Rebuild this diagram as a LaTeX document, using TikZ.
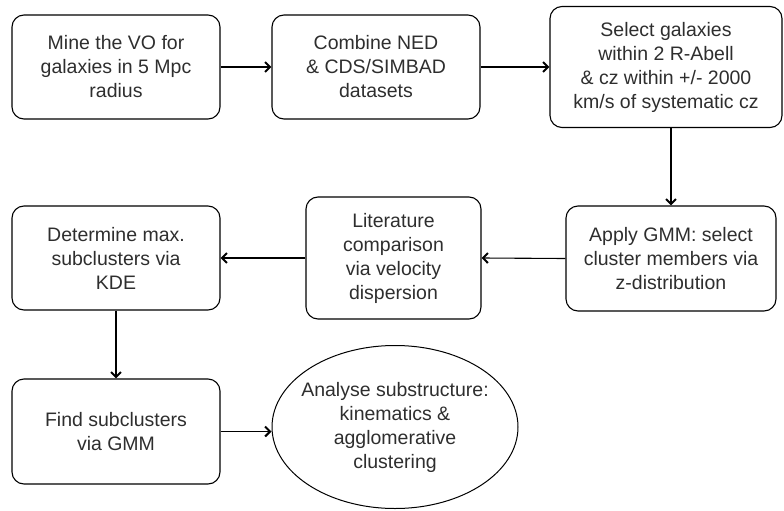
\documentclass[tikz,border=0pt]{standalone}
\usepackage{fontspec}
\setmainfont{Liberation Sans}
\usetikzlibrary{shapes.geometric,arrows.meta}
\begin{document}
\begin{tikzpicture}[x=1pt,y=-1pt,
  txt/.style={text=black!82,font=\fontsize{19.5}{24}\selectfont,align=center},
  stepbox/.style={txt,draw=black,line width=1.1pt,rounded corners=12pt,inner sep=0pt},
  endell/.style={txt,draw=black,line width=1pt,ellipse,inner xsep=-10pt,inner ysep=0pt},
  conn/.style={line width=1.1pt,-{Straight Barb[length=5pt,width=10pt,line width=2pt]}}]
\useasboundingbox (0,0) rectangle (784,511);
\node[stepbox,minimum width=208pt,minimum height=104pt] (A) at (116,67) {Mine the VO for\\galaxies in 5 Mpc\\radius};
\node[stepbox,minimum width=208pt,minimum height=104pt] (B) at (376,67) {Combine NED\\\& CDS/SIMBAD\\datasets};
\node[stepbox,minimum width=232pt,minimum height=121pt] (C) at (666,67) {Select galaxies\\within 2 R-Abell\\\& cz within +/- 2000\\km/s of systematic cz};
\node[stepbox,minimum width=210pt,minimum height=105pt] (D) at (671,258.5) {Apply GMM: select\\cluster members via\\z-distribution};
\node[stepbox,minimum width=175pt,minimum height=122pt] (E) at (393.5,258) {Literature\\comparison\\via velocity\\dispersion};
\node[stepbox,minimum width=208pt,minimum height=104pt] (F) at (116,258) {Determine max.\\subclusters via\\KDE};
\node[stepbox,minimum width=208pt,minimum height=105pt] (G) at (116,431.5) {Find subclusters\\via GMM};
\node[endell,minimum width=246pt,minimum height=163pt] (H) at (395,427) {Analyse substructure:\\kinematics \&\\agglomerative\\clustering};
\draw[conn] (A.east) -- (B.west);
\draw[conn] (B.east) -- (C.west |- B.east);
\draw[conn] (C.south -| D.north) -- (D.north);
\draw[conn] (D.west) -- (E.east);
\draw[conn] (E.west) -- (F.east);
\draw[conn] (F.south) -- (G.north);
\draw[conn] (G.east) -- (G.east -| H.west);
\end{tikzpicture}
\end{document}
